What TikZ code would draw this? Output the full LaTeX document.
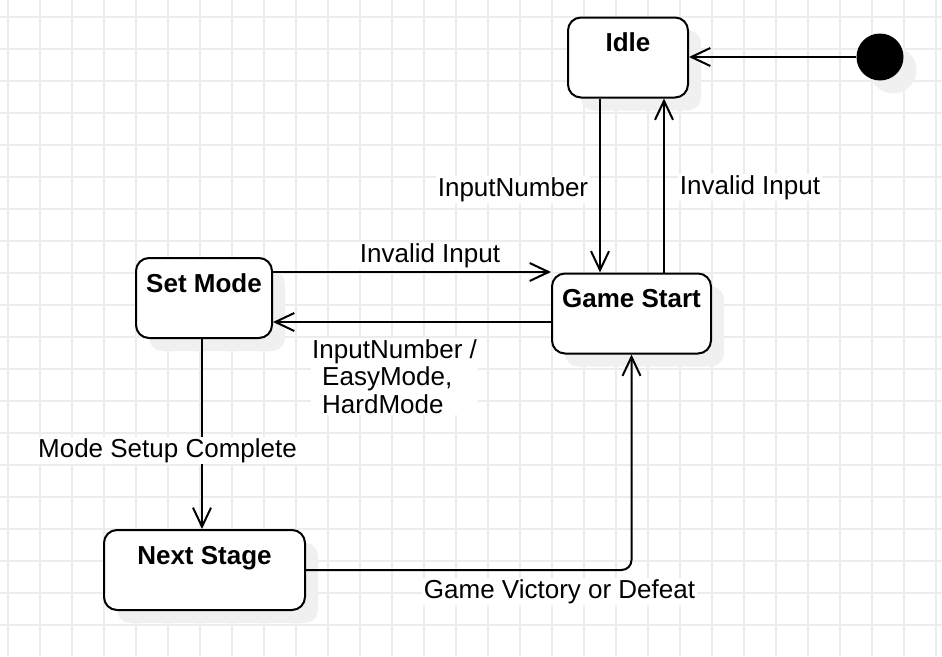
\documentclass[tikz,border=0pt]{standalone}
\usepackage{fontspec}
\setmainfont{Liberation Sans}
\usetikzlibrary{arrows.meta,positioning,calc,shadows}

\definecolor{gridgray}{HTML}{ECECEC}
\definecolor{shadowgray}{HTML}{F0F0F0}

\tikzset{
    gridline/.style={draw=gridgray, line width=2pt},
    statebox/.style={draw, line width=2pt, rounded corners=13pt, fill=white, font=\fontsize{26}{27.5}\selectfont\bfseries,
        inner xsep=4pt, inner ysep=15pt, text height=19pt, text depth=31pt, minimum height=80pt,
        general shadow={fill=shadowgray, shadow xshift=13pt, shadow yshift=-13pt}},
    trans/.style={line width=2pt, -{Straight Barb[length=19pt,width=18pt]}},
    lbl/.style={fill=white, inner sep=1.5pt, anchor=base},
}

\begin{document}
\begin{tikzpicture}[x=1pt, y=-1pt, font=\fontsize{26}{27.5}\selectfont]
    \useasboundingbox (0,0) rectangle (942,656);
    %Background grid%
    %===========================================================
    \foreach \gx in {0,...,29}
        \draw[gridline] ({8+32*\gx},0) -- ({8+32*\gx},656);
    \foreach \gy in {0,...,19}
        \draw[gridline] (0,{17+32*\gy}) -- (942,{17+32*\gy});

    %States%
    %===========================================================
    \node[statebox, minimum width=120pt] (idle) at (628,57.5) {Idle};
    \node[statebox, minimum width=136pt] (setmode) at (204,298) {Set Mode};
    \node[statebox, minimum width=159pt] (gamestart) at (631.5,313.5) {Game Start};
    \node[statebox, minimum width=201pt] (nextstage) at (204.5,570) {Next Stage};
    \node[circle, fill=black, minimum size=47pt, inner sep=0pt,
        general shadow={fill=shadowgray, shadow xshift=13pt, shadow yshift=-13pt}] (init) at (880,57) {}; %Start point

    %Transitions%
    %===========================================================
    \draw[trans] (init.west) -- (init.west -| idle.east);
    \draw[trans] ([xshift=-28pt]idle.south) -- ([xshift=-28pt]idle.south |- gamestart.north); %Idle to game
    \draw[trans] ([xshift=32.5pt]gamestart.north) -- ([xshift=32.5pt]gamestart.north |- idle.south); %Back to idle
    \draw[trans] ([yshift=26pt]setmode.east) -- ([yshift=26pt]setmode.east -| gamestart.west);
    \draw[trans] ([yshift=-8.5pt]gamestart.west) -- ([yshift=-8.5pt]gamestart.west -| setmode.east);
    \draw[trans] ([xshift=-2pt]setmode.south) -- ([xshift=-2pt]setmode.south |- nextstage.north);
    \draw[trans, rounded corners=10pt] (nextstage.east) -| (gamestart.south);

    %Labels%
    %===========================================================
    \node[lbl] (lblinputnumber) at (513,196) {InputNumber};
    \node[lbl] (lblinvalididle) at (750,194) {Invalid Input};
    \node[lbl] (lblinvalidmode) at (430,262) {Invalid Input};
    \node[lbl, align=left, anchor=north west] (lblmodes) at (310.5,337.5) {InputNumber /\\\hspace{10pt}EasyMode,\\\hspace{10pt}HardMode};
    \node[lbl] (lblsetup) at (167.5,457) {Mode Setup Complete};
    \node[lbl] (lblvictory) at (559.5,598) {Game Victory or Defeat};
\end{tikzpicture}
\end{document}
